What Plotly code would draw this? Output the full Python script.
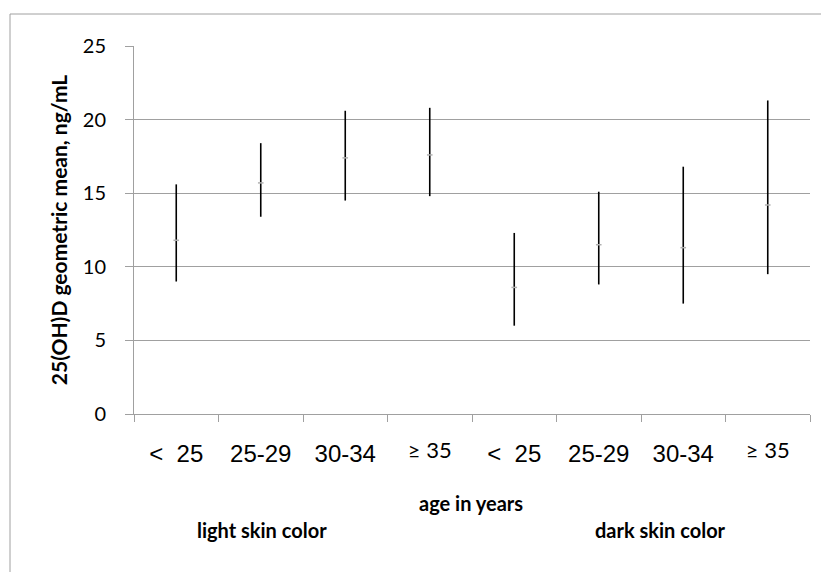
import plotly.graph_objects as go

# ---- data ----
age_groups = ["<  25", "25-29", "30-34", "≥ 35", "<  25", "25-29", "30-34", "≥ 35"]
geo_mean = [11.8, 15.7, 17.4, 17.6, 8.6, 11.5, 11.3, 14.2]
ci_lower = [9.0, 13.4, 14.5, 14.8, 6.0, 8.8, 7.5, 9.5]
ci_upper = [15.6, 18.4, 20.6, 20.8, 12.3, 15.1, 16.8, 21.3]
y_ticks = [0, 5, 10, 15, 20, 25]
group_labels = ["light skin color", "dark skin color"]

W, H = 829, 572
OFF = 8  # page body offset
L, R, T, B = 134 - OFF, 27, 46 - OFF, 166
pw, ph = W - L - R, H - T - B

def px(x):
    return (x - OFF - L) / pw

def py(y):
    return (H - B - (y - OFF)) / ph

positions = list(range(len(geo_mean)))
err_plus = [u - m for u, m in zip(ci_upper, geo_mean)]
err_minus = [m - l for m, l in zip(geo_mean, ci_lower)]

def esc(t):
    return t.replace("<", "&lt;").replace("  ", "\u00a0\u00a0")

main_text = ["" if t.startswith("≥") else esc(t) for t in age_groups]
ge_pos = [p for p, t in zip(positions, age_groups) if t.startswith("≥")]
ge_text = [t for t in age_groups if t.startswith("≥")]

fig = go.Figure()
fig.add_trace(go.Scatter(
    x=positions, y=geo_mean, mode="markers",
    marker=dict(symbol="line-ew", size=4, color="#b0b0b0", line=dict(color="#b0b0b0", width=1.5)),
    error_y=dict(type="data", array=err_plus, arrayminus=err_minus, width=0,
                 thickness=1.6, color="black"),
    showlegend=False, hoverinfo="skip",
))

fig.update_layout(
    width=W, height=H,
    margin=dict(l=L, r=R, t=T, b=B),
    paper_bgcolor="white", plot_bgcolor="white",
    xaxis=dict(
        range=[-0.5, 7.5], tickvals=positions, ticktext=main_text,
        ticks="", showgrid=False, zeroline=False,
        showline=True, linecolor="#a0a0a0", linewidth=1,
        tickfont=dict(family="Liberation Sans", size=24, color="black"),
        ticklabelstandoff=18,
        minor=dict(tickvals=[p - 0.5 for p in positions] + [7.5], ticks="outside",
                   ticklen=7, tickcolor="#a0a0a0", showgrid=False),
    ),
    xaxis2=dict(
        overlaying="x", matches="x", anchor="y", side="bottom",
        tickvals=ge_pos, ticktext=ge_text, ticks="", showgrid=False, zeroline=False,
        showline=False, tickfont=dict(family="Lato", size=22, color="black"),
        ticklabelstandoff=21,
    ),
    yaxis=dict(
        range=[0, 25], tickvals=y_ticks, ticks="outside", ticklen=8, tickcolor="#a0a0a0",
        showgrid=True, gridcolor="#a0a0a0", gridwidth=1, zeroline=False,
        showline=True, linecolor="#a0a0a0", linewidth=1,
        tickfont=dict(family="Lato", size=20, color="black"),
        ticklabelstandoff=15,
        title=dict(text="<b>25(OH)D geometric mean, ng/mL</b>",
                   font=dict(family="Lato", size=21, color="black"), standoff=9),
    ),
    shapes=[dict(type="rect", xref="paper", yref="paper",
                 x0=px(10), x1=px(W + 40), y0=py(H + 40), y1=py(14),
                 line=dict(color="#a0a0a0", width=1), layer="below")],
    annotations=[
        dict(text="<b>age in years</b>", xref="paper", yref="paper", x=px(471), y=py(503),
             xanchor="center", yanchor="middle",
             showarrow=False, font=dict(family="Lato", size=20, color="black")),
        dict(text="<b>" + group_labels[0] + "</b>", xref="paper", yref="paper", x=px(262), y=py(530),
             xanchor="center", yanchor="middle",
             showarrow=False, font=dict(family="Lato", size=20, color="black")),
        dict(text="<b>" + group_labels[1] + "</b>", xref="paper", yref="paper", x=px(660), y=py(530),
             xanchor="center", yanchor="middle",
             showarrow=False, font=dict(family="Lato", size=20, color="black")),
    ],
)
fig.add_trace(go.Scatter(x=[], y=[], xaxis="x2", showlegend=False, hoverinfo="skip"))

fig.write_html("out.html")
